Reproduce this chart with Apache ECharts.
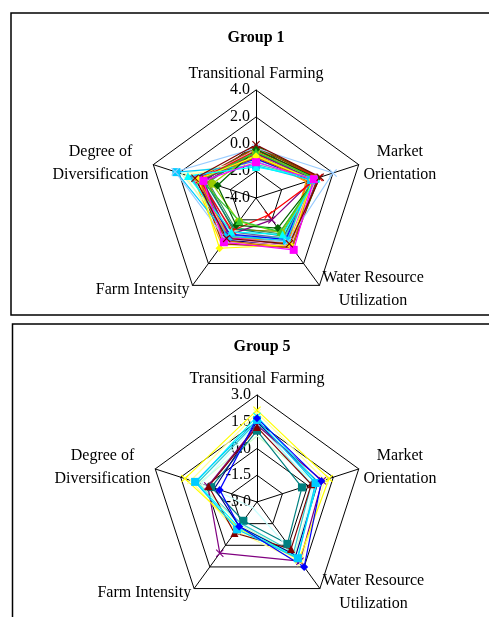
<!DOCTYPE html>
<html>
<head>
<meta charset="utf-8">
<script src="https://cdn.jsdelivr.net/npm/echarts@6/dist/echarts.min.js"></script>
<style>
  html, body { margin: 0; padding: 0; background: #fff; }
  #chart { width: 489px; height: 617px; }
</style>
</head>
<body>
<div id="chart"></div>
<script>
// Indicator order follows ECharts' counter-clockwise layout starting at the top.
const indicatorNames = [
  'Transitional Farming',
  'Degree of\nDiversification',
  'Farm Intensity',
  'Water Resource\nUtilization',
  'Market\nOrientation'
];

const group1Title = 'Group 1';
const group5Title = 'Group 5';
const group1Range = [-4, 4];
const group5Range = [-3, 3];
const group1Ticks = ['-4.0', '-2.0', '0.0', '2.0', '4.0'];
const group5Ticks = ['-3.0', '-1.5', '0.0', '1.5', '3.0'];

// Values per line: [Transitional Farming, Diversification, Farm Intensity, Water Resource, Market Orientation]
const group1Values = [
  [-0.60, 0.30, -0.70, -0.40, 0.25],
  [-0.65, 0.20, -0.90, -0.30, 0.40],
  [-0.85, 0.70, -0.25, 0.35, 0.50],
  [-1.40, 1.50, -0.20, 0.15, 0.10],
  [-1.15, 0.55, 0.10, 0.50, 0.20],
  [-0.15, 0.15, -0.50, 0.45, 0.95],
  [-0.75, 0.90, 0.30, 0.20, 0.15],
  [-1.05, 0.35, -0.45, -0.10, 0.05],
  [-1.25, 1.10, -0.60, -0.25, 0.35],
  [-0.35, -0.30, -1.30, -0.70, 0.60],
  [-0.20, -0.20, -1.10, -0.95, 0.90],
  [-0.95, 0.45, -0.35, 0.00, 0.60],
  [-0.70, 0.60, -0.15, 0.30, 0.80],
  [-0.25, 0.50, 0.20, 0.55, 0.85],
  [-0.45, 0.50, -0.30, 0.40, 0.70],
  [-1.20, 1.80, -0.80, 0.10, 0.20],
  [-1.50, 1.00, -0.40, -0.40, 0.55],
  [-0.90, 0.00, -1.20, -0.50, 0.45],
  [-1.10, 0.80, -0.70, -0.20, 0.30],
  [-0.80, 0.60, -0.50, 0.10, -0.10],
  [-1.00, 0.40, -0.10, 0.60, 0.30],
  [-1.60, 2.20, -0.50, -0.10, 0.30],
  [-0.30, 2.30, -0.20, 0.00, 2.00],
  [-0.70, 0.20, -0.60, -2.00, 0.50],
  [-0.50, 0.40, -1.00, -2.45, 0.90],
  [-0.55, -0.60, -1.85, -0.80, 0.65],
  [-0.40, -1.00, -1.50, -1.25, 0.75],
  [-0.60, 0.30, -1.90, -0.90, 0.60],
  [-0.90, 0.50, 0.60, 0.30, 0.40],
  [-1.70, 1.30, -0.90, -0.65, 0.70],
  [-1.35, 0.10, 0.05, 0.75, 0.50],
  [-0.05, 0.75, -0.30, 0.20, 1.00]
];
const group1Colors = [
  '#C0C0C0', '#666699', '#CC99FF', '#FFFF99', '#FF8080', '#008000',
  '#FFCC00', '#FF6600', '#3366FF', '#339966', '#808000', '#FF00FF',
  '#000080', '#993300', '#FF99CC', '#CCFFCC', '#33CCCC', '#008080',
  '#0000FF', '#FF9900', '#CC6600', '#00CCFF', '#99CCFF', '#800080',
  '#FF0000', '#99CC00', '#006400', '#33CC33', '#FFFF00', '#00FFFF',
  '#FF00FF', '#800000'
];
const group1Symbols = [
  'none', 'none', 'none', 'none', 'none', 'none',
  'none', 'none', 'none', 'none', 'none', 'x',
  'none', 'none', 'none', 'none', 'none', 'none',
  'none', 'none', 'none', 'rect', 'x', 'x',
  'x', 'circle', 'diamond', 'triangle', 'diamond', 'triangle',
  'rect', 'x'
];

const group5Values = [
  [1.50, 0.50, -1.50, 0.50, 0.20],
  [0.70, 0.40, -1.40, 0.60, 0.50],
  [1.00, -0.30, -1.70, -0.10, -0.35],
  [1.40, 0.30, -2.60, 0.90, 0.30],
  [2.00, 0.90, -1.00, 1.20, 1.00],
  [1.50, -0.50, -1.30, 0.70, 0.60],
  [1.30, -0.10, 0.55, 1.10, 0.85],
  [1.20, -0.15, -0.85, 0.25, 0.20],
  [2.15, 1.25, -1.20, 1.00, 1.25],
  [1.80, 0.60, -1.25, 0.85, 0.55],
  [1.60, 0.65, -1.10, 0.90, 0.45],
  [1.70, -0.80, -1.30, 1.50, 0.80]
];
const group5Colors = [
  '#33CCCC', '#CCFFCC', '#008080', '#CCFFFF', '#FFFF99', '#000080',
  '#800080', '#800000', '#FFFF00', '#00FFFF', '#00CCFF', '#0000FF'
];
const group5Symbols = [
  'none', 'none', 'rect', 'none', 'x', 'none',
  'x', 'triangle', 'x', 'x', 'rect', 'diamond'
];

const xPath = 'path://M0,1L1,0L5,4L9,0L10,1L6,5L10,9L9,10L5,6L1,10L0,9L4,5Z';
const serif = '"Liberation Serif", "Times New Roman", serif';

function buildIndicators(range) {
  return indicatorNames.map((name, i) => {
    const ind = { name: name, min: range[0], max: range[1] };
    if (i === 0) ind.axisLabel = { show: true };
    return ind;
  });
}

function buildData(values, colors, symbols) {
  return values.map((v, i) => {
    const sym = symbols[i] === 'x' ? xPath : symbols[i];
    return {
      value: v,
      symbol: sym,
      symbolSize: 8,
      lineStyle: { color: colors[i], width: 1.2 },
      itemStyle: { color: colors[i] }
    };
  });
}

function radarConfig(center, radius, range, ticks) {
  return {
    center: center,
    radius: radius,
    startAngle: 90,
    splitNumber: 4,
    shape: 'polygon',
    indicator: buildIndicators(range),
    nameGap: 5,
    axisName: {
      color: '#000',
      fontFamily: serif,
      fontSize: 16,
      verticalAlign: 'middle',
      formatter: function (name) {
        return name.split('\n').map(s => '{c|' + s + '}').join('\n');
      },
      rich: { c: { align: 'center', fontFamily: serif, fontSize: 16, color: '#000', lineHeight: 23 } }
    },
    axisLine: { show: true, lineStyle: { color: '#000', width: 1 } },
    splitLine: { show: true, lineStyle: { color: '#000', width: 1 } },
    splitArea: { show: false },
    axisTick: { show: false },
    axisLabel: {
      show: false,
      color: '#000',
      fontFamily: serif,
      fontSize: 16,
      margin: 6,
      formatter: function (v) {
        const idx = Math.round((v - range[0]) / ((range[1] - range[0]) / 4));
        return ticks[idx];
      }
    }
  };
}

const chart = echarts.init(document.getElementById('chart'), null, { renderer: 'canvas' });
chart.setOption({
  backgroundColor: '#fff',
  animation: false,
  title: [
    { text: group1Title, left: 251, top: 25, textAlign: 'center',
      textStyle: { fontFamily: serif, fontSize: 16, fontWeight: 'bold', color: '#000' } },
    { text: group5Title, left: 257, top: 334, textAlign: 'center',
      textStyle: { fontFamily: serif, fontSize: 16, fontWeight: 'bold', color: '#000' } }
  ],
  graphic: [
    { type: 'rect', shape: { x: 11, y: 13, width: 520, height: 302 },
      style: { fill: 'none', stroke: '#000', lineWidth: 1.5 }, silent: true },
    { type: 'rect', shape: { x: 12.5, y: 324, width: 520, height: 320 },
      style: { fill: 'none', stroke: '#000', lineWidth: 1.5 }, silent: true }
  ],
  radar: [
    radarConfig([256, 198], 108, group1Range, group1Ticks),
    radarConfig([257, 502], 107, group5Range, group5Ticks)
  ],
  series: [
    { type: 'radar', radarIndex: 0, data: buildData(group1Values, group1Colors, group1Symbols) },
    { type: 'radar', radarIndex: 1, data: buildData(group5Values, group5Colors, group5Symbols) }
  ]
});
</script>
</body>
</html>
